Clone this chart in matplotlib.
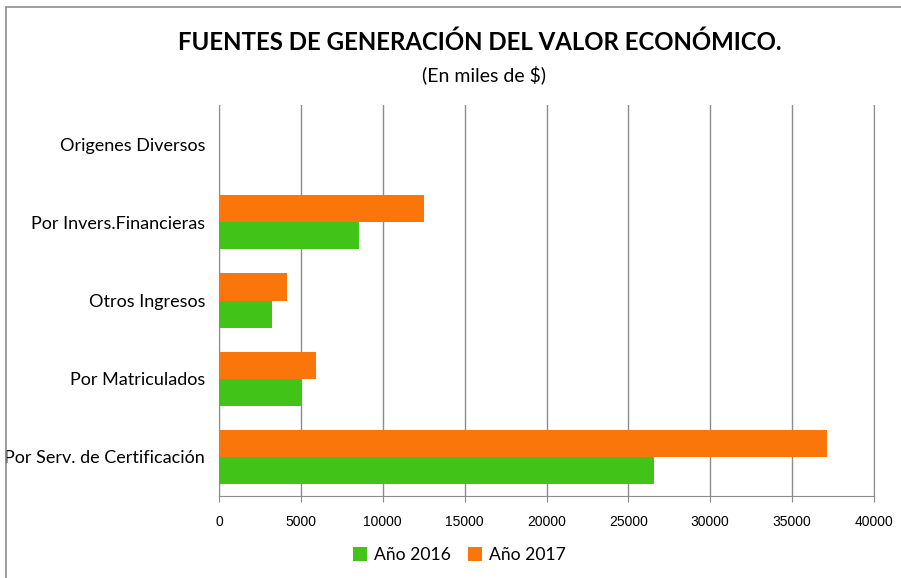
from matplotlib import pyplot as plt
from matplotlib.patches import Rectangle
import numpy as np

categorias = ['Por Serv. de Certificación', 'Por Matriculados', 'Otros Ingresos',
              'Por Invers.Financieras', 'Origenes Diversos']
valores_2016 = [26550, 5000, 3250, 8550, 0]
valores_2017 = [37100, 5900, 4150, 12500, 0]
ticks_x = [0, 5000, 10000, 15000, 20000, 25000, 30000, 35000, 40000]

plt.rcParams['font.family'] = ['Lato', 'DejaVu Sans']

fig = plt.figure(figsize=(9.01, 5.78), dpi=100)
fig.patches.append(Rectangle((6 / 901, -0.1), 1.2, 1 - 7 / 578 + 0.1, transform=fig.transFigure,
                             fill=False, edgecolor='#8c8c8c', linewidth=1.2))
ax = fig.add_axes([219 / 901, 1 - 496 / 578, (874 - 219) / 901, (496 - 105) / 578])

y = np.arange(len(categorias))
h = 0.346
ax.barh(y - h / 2, valores_2016, height=h, color='#41c417', label='Año 2016', zorder=3)
ax.barh(y + h / 2, valores_2017, height=h, color='#fa750a', label='Año 2017', zorder=3)

ax.set_xlim(0, 40000)
ax.set_ylim(-0.5, len(categorias) - 0.5)
ax.set_xticks(ticks_x)
ax.set_xticklabels([str(t) for t in ticks_x], fontsize=10, family=['Liberation Sans'])
ax.set_yticks(y)
ax.set_yticklabels(categorias, fontsize=13)
ax.tick_params(axis='y', length=0, pad=10)
ax.tick_params(axis='x', length=4, color='#8c8c8c', pad=10)
ax.grid(axis='x', color='#8c8c8c', linewidth=1, zorder=0)
ax.spines['top'].set_visible(False)
for s in ['left', 'bottom', 'right']:
    ax.spines[s].set_color('#8c8c8c')

fig.text(0.532, 1 - 42 / 578, 'FUENTES DE GENERACIÓN DEL VALOR ECONÓMICO.', ha='center', va='center',
         fontsize=17.3, fontweight='bold')
fig.text(0.537, 1 - 75 / 578, '(En miles de $)', ha='center', va='center', fontsize=14)

fig.legend(loc='center', bbox_to_anchor=(0.51, 1 - 555 / 578), ncol=2, frameon=False,
           fontsize=12.6, handlelength=0.8, handleheight=0.8, columnspacing=1.0, handletextpad=0.4)

fig.savefig('out.png', dpi=100)
